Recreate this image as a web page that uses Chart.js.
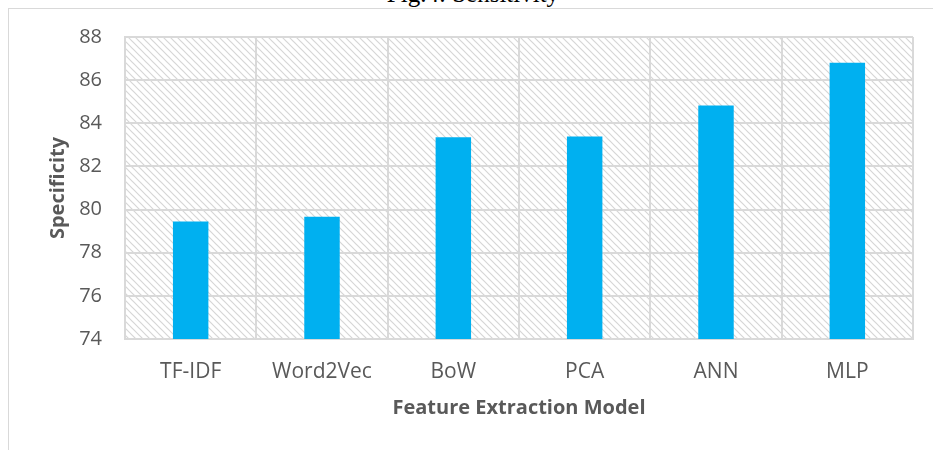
<!DOCTYPE html>
<html>
<head>
<meta charset="utf-8">
<script src="https://cdn.jsdelivr.net/npm/chart.js@4/dist/chart.umd.min.js"></script>
<style>
  html, body { margin: 0; padding: 0; background: #fff; overflow: hidden; }
  #wrap { position: relative; width: 933px; height: 450px; }
  #frame { position: absolute; left: 8px; top: 8px; width: 1000px; height: 600px;
           border: 1.5px solid #d9d9d9; box-sizing: border-box; }
  #fig { position: absolute; left: 0; width: 946px; top: -19px; text-align: center;
         font-family: "Liberation Serif", serif; font-size: 25px; line-height: 25px; color: #000; }
  canvas { position: absolute; left: 0; top: 0; }
</style>
</head>
<body>
<div id="wrap">
  <div id="fig">Fig.4: Sensitivity</div>
  <div id="frame"></div>
  <canvas id="myChart" width="933" height="450"></canvas>
</div>
<script>
// data
const models = ['TF-IDF', 'Word2Vec', 'BoW', 'PCA', 'ANN', 'MLP'];
const specificity = [79.45, 79.67, 83.35, 83.39, 84.82, 86.81];
const yTicks = [74, 76, 78, 80, 82, 84, 86, 88];

const gridColor = '#d9d9d9';
const textColor = '#595959';

// hatched fill for the plot area
function makeHatch() {
  const s = 7;
  const c = document.createElement('canvas');
  c.width = s; c.height = s;
  const g = c.getContext('2d');
  g.strokeStyle = '#d6d6d6';
  g.lineWidth = 1.2;
  g.beginPath();
  g.moveTo(0, 0); g.lineTo(s, s);
  g.moveTo(-1, s - 1); g.lineTo(1, s + 1);
  g.moveTo(s - 1, -1); g.lineTo(s + 1, 1);
  g.stroke();
  return c;
}

const hatchPlugin = {
  id: 'hatch',
  beforeDraw(chart) {
    const { ctx, chartArea } = chart;
    const pat = ctx.createPattern(makeHatch(), 'repeat');
    ctx.save();
    ctx.fillStyle = pat;
    ctx.fillRect(chartArea.left, chartArea.top, chartArea.right - chartArea.left, chartArea.bottom - chartArea.top);
    ctx.restore();
  }
};

const ctx = document.getElementById('myChart');
const myChart = new Chart(ctx, {
  type: 'bar',
  data: {
    labels: models,
    datasets: [{
      label: 'Specificity',
      data: specificity,
      backgroundColor: '#00B0F0',
      borderWidth: 0,
      barPercentage: 0.27,
      categoryPercentage: 1.0
    }]
  },
  options: {
    responsive: false,
    animation: false,
    layout: { padding: { top: 37, right: 20, bottom: 0, left: 0 } },
    plugins: {
      legend: { display: false },
      tooltip: { enabled: false }
    },
    scales: {
      x: {
        offset: true,
        grid: { color: gridColor, lineWidth: 2, drawTicks: false, offset: true },
        border: { color: gridColor, width: 2 },
        ticks: {
          color: textColor,
          padding: 20,
          font: { family: 'Open Sans', size: 21 }
        },
        title: {
          display: true,
          text: 'Feature Extraction Model',
          color: textColor,
          padding: { top: 0, bottom: 30 },
          font: { family: 'Open Sans', size: 20, weight: 'bold' }
        },
        afterFit(scale) { scale.height = 111; }
      },
      y: {
        min: 74,
        max: 88,
        afterBuildTicks(scale) { scale.ticks = yTicks.map(v => ({ value: v })); },
        grid: { color: gridColor, lineWidth: 2, drawTicks: false },
        border: { color: gridColor, width: 2 },
        ticks: {
          color: textColor,
          padding: 23,
          font: { family: 'Open Sans', size: 20 }
        },
        title: {
          display: true,
          text: 'Specificity',
          color: textColor,
          padding: { top: 46, bottom: 0 },
          font: { family: 'Open Sans', size: 20, weight: 'bold' }
        },
        afterFit(scale) { scale.width = 125; }
      }
    }
  },
  plugins: [hatchPlugin]
});
</script>
</body>
</html>
